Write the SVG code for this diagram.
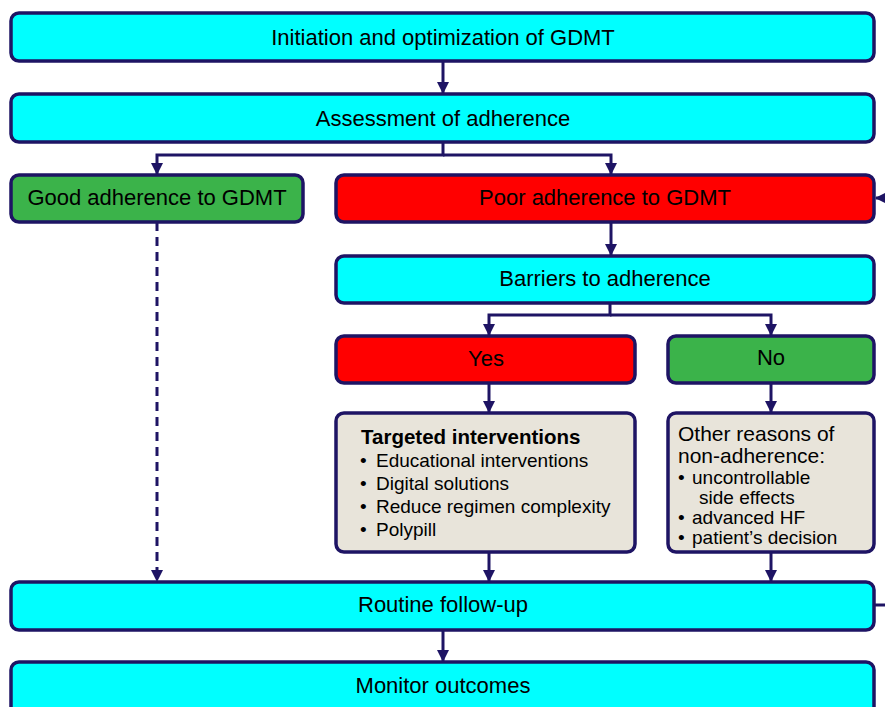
<svg xmlns="http://www.w3.org/2000/svg" width="885" height="707" viewBox="0 0 885 707">
<defs>
<style>
.box{stroke:#1e1464;stroke-width:3.5;}
.cyan{fill:#00ffff;}
.red{fill:#ff0000;}
.green{fill:#3bb34a;}
.beige{fill:#e8e4da;}
.t{font-family:"Liberation Sans",Arial,sans-serif;font-size:22px;fill:#000;text-anchor:middle;}
.s{font-family:"Liberation Sans",Arial,sans-serif;font-size:19px;fill:#000;}
.h{font-family:"Liberation Sans",Arial,sans-serif;font-size:20.5px;font-weight:bold;fill:#000;}
.o{font-family:"Liberation Sans",Arial,sans-serif;font-size:21px;fill:#000;}
.c{stroke:#1e1464;stroke-width:3;fill:none;}
</style>
<marker id="ah" markerWidth="12" markerHeight="12" viewBox="0 0 12 12" refX="11" refY="6" orient="auto" markerUnits="userSpaceOnUse">
<path d="M0,0 L12,6 L0,12 z" fill="#1e1464"/>
</marker>
</defs>
<rect width="885" height="707" fill="#fff"/>
<g id="connectors">
<line class="c" x1="443" y1="61" x2="443" y2="93" marker-end="url(#ah)"/>
<polyline class="c" points="443,142 443,155 157,155 157,174" marker-end="url(#ah)"/>
<polyline class="c" points="443,155 611,155 611,174" marker-end="url(#ah)"/>
<line class="c" x1="611" y1="222" x2="611" y2="255" marker-end="url(#ah)"/>
<polyline class="c" points="610,303 610,315 489,315 489,335" marker-end="url(#ah)"/>
<polyline class="c" points="610,315 771,315 771,335" marker-end="url(#ah)"/>
<line class="c" x1="489" y1="383" x2="489" y2="412" marker-end="url(#ah)"/>
<line class="c" x1="771" y1="383" x2="771" y2="412" marker-end="url(#ah)"/>
<line class="c" x1="489" y1="552" x2="489" y2="581" marker-end="url(#ah)"/>
<line class="c" x1="771" y1="552" x2="771" y2="581" marker-end="url(#ah)"/>
<line class="c" x1="157" y1="222" x2="157" y2="581" stroke-dasharray="9,6" marker-end="url(#ah)"/>
<line class="c" x1="443" y1="630" x2="443" y2="661" marker-end="url(#ah)"/>
<line class="c" x1="875" y1="605" x2="890" y2="605"/>
<line class="c" x1="890" y1="198" x2="876" y2="198" marker-end="url(#ah)"/>
</g>
<g id="n1"><rect class="box cyan" x="11" y="13" width="863" height="48" rx="8"/><text class="t" x="443" y="45">Initiation and optimization of GDMT</text></g>
<g id="n2"><rect class="box cyan" x="11" y="94" width="863" height="48" rx="8"/><text class="t" x="443" y="126">Assessment of adherence</text></g>
<g id="n3"><rect class="box green" x="11" y="175" width="292" height="47" rx="8"/><text class="t" x="157" y="205">Good adherence to GDMT</text></g>
<g id="n4"><rect class="box red" x="336" y="175" width="538" height="47" rx="8"/><text class="t" x="605" y="205">Poor adherence to GDMT</text></g>
<g id="n5"><rect class="box cyan" x="336" y="256" width="538" height="47" rx="8"/><text class="t" x="605" y="286">Barriers to adherence</text></g>
<g id="n6"><rect class="box red" x="336" y="336" width="299" height="47" rx="8"/><text class="t" x="486" y="366">Yes</text></g>
<g id="n7"><rect class="box green" x="668" y="336" width="206" height="47" rx="8"/><text class="t" x="771" y="365">No</text></g>
<g id="n8"><rect class="box beige" x="336" y="413" width="299" height="139" rx="8"/>
<text class="h" x="361" y="444">Targeted interventions</text>
<text class="s" x="360" y="467">•</text><text class="s" x="376" y="467">Educational interventions</text>
<text class="s" x="360" y="490">•</text><text class="s" x="376" y="490">Digital solutions</text>
<text class="s" x="360" y="513">•</text><text class="s" x="376" y="513">Reduce regimen complexity</text>
<text class="s" x="360" y="536">•</text><text class="s" x="376" y="536">Polypill</text>
</g>
<g id="n9"><rect class="box beige" x="668" y="413" width="206" height="139" rx="8"/>
<text class="o" x="678" y="441">Other reasons of</text>
<text class="o" x="678" y="463">non-adherence:</text>
<text class="s" x="678" y="484">•</text><text class="s" x="692" y="484">uncontrollable</text>
<text class="s" x="699" y="504">side effects</text>
<text class="s" x="678" y="524">•</text><text class="s" x="692" y="524">advanced HF</text>
<text class="s" x="678" y="544">•</text><text class="s" x="692" y="544">patient’s decision</text>
</g>
<g id="n10"><rect class="box cyan" x="11" y="582" width="863" height="48" rx="8"/><text class="t" x="443" y="612">Routine follow-up</text></g>
<g id="n11"><rect class="box cyan" x="11" y="662" width="863" height="54" rx="8"/><text class="t" x="443" y="693">Monitor outcomes</text></g>
</svg>
